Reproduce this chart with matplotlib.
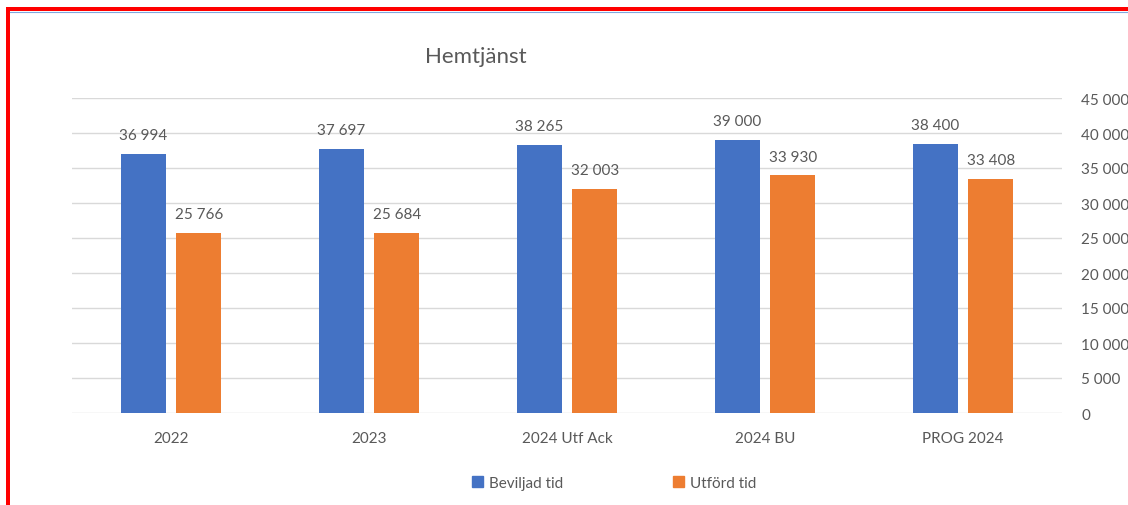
import matplotlib
matplotlib.use("Agg")
import matplotlib.pyplot as plt
import numpy as np
from matplotlib.patches import Rectangle
from matplotlib.lines import Line2D

categories = ["2022", "2023", "2024 Utf Ack", "2024 BU", "PROG 2024"]
beviljad = [36994, 37697, 38265, 39000, 38400]
utford = [25766, 25684, 32003, 33930, 33408]
series_names = ["Beviljad tid", "Utförd tid"]
yticks = [0, 5000, 10000, 15000, 20000, 25000, 30000, 35000, 40000, 45000]

plt.rcParams['font.family'] = ['Lato', 'DejaVu Sans']
txt = '#595959'
blue = '#4472C4'
orange = '#ED7D31'

def fmt(v):
    return f"{v:,}".replace(",", " ")

W, H = 1128, 506
fig = plt.figure(figsize=(W/100, H/100), dpi=100)
ax = fig.add_axes([72/W, 1-414/H, (1062-72)/W, (414-99)/H])

x = np.arange(len(categories))
bw = 0.225
off = 0.14
b1 = ax.bar(x - off, beviljad, bw, color=blue, zorder=3)
b2 = ax.bar(x + off, utford, bw, color=orange, zorder=3)
for bars, vals in ((b1, beviljad), (b2, utford)):
    for r, v in zip(bars, vals):
        ax.annotate(fmt(v), (r.get_x() + r.get_width()/2, v), xytext=(0, 13.5),
                    textcoords='offset points', ha='center', va='center',
                    fontsize=11, color=txt)

ax.set_xlim(-0.5, len(categories) - 0.5)
ax.set_ylim(0, 45000)
ax.set_yticks(yticks)
ax.set_yticklabels([fmt(v) for v in yticks])
ax.yaxis.tick_right()
ax.tick_params(axis='y', length=0, pad=14, labelsize=11, labelcolor=txt)
ax.set_xticks(x)
ax.set_xticklabels(categories)
ax.tick_params(axis='x', length=0, pad=13, labelsize=11, labelcolor=txt)
ax.grid(axis='y', color='#D9D9D9', linewidth=1, zorder=0)
for s in ax.spines.values():
    s.set_visible(False)

fig.text(476/W, 1-57/H, "Hemtjänst", ha='center', va='center', fontsize=16, color=txt)

handles = [Rectangle((0, 0), 1, 1, color=blue), Rectangle((0, 0), 1, 1, color=orange)]
leg = fig.legend(handles, series_names, loc='center', bbox_to_anchor=(614/W, 1-484/H),
                 ncol=2, frameon=False, fontsize=11, labelcolor=txt,
                 handlelength=0.7, handleheight=0.7, handletextpad=0.4, columnspacing=7.2)

# red frame (top and left) with thin blue line
fig.add_artist(Rectangle((6/W, 1-12/H), (W-6)/W, 4/H, transform=fig.transFigure,
                         color='#FF0000', lw=0))
fig.add_artist(Rectangle((6/W, 0), 4/W, (H-8)/H, transform=fig.transFigure,
                         color='#FF0000', lw=0))
fig.add_artist(Line2D([10/W, 1], [1-12.5/H, 1-12.5/H], transform=fig.transFigure,
                      color='#7FA7E0', lw=0.8))

fig.savefig("out.png", dpi=100)
